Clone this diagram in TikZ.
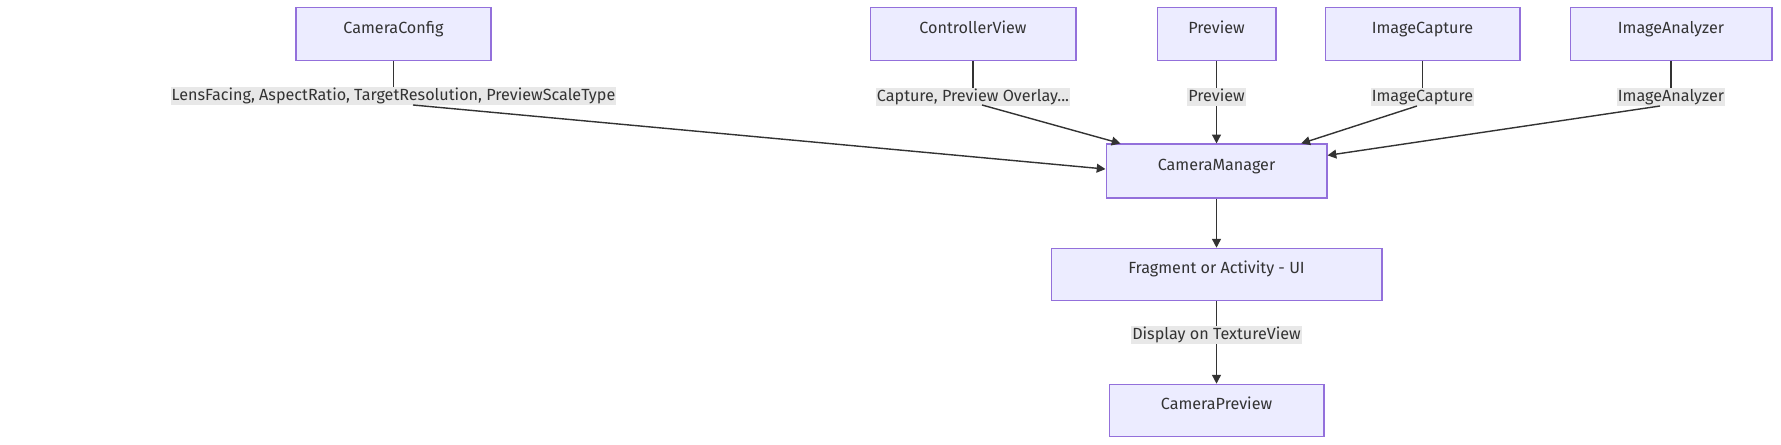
\documentclass[tikz,border=0pt]{standalone}
\usepackage{fontspec}
\setmainfont{Fira Sans}
\usetikzlibrary{arrows.meta}
\definecolor{boxfill}{HTML}{ECECFF}
\definecolor{boxline}{HTML}{9370DB}
\definecolor{lblfill}{HTML}{E8E8E8}
\definecolor{ink}{HTML}{333333}
\tikzset{
  box/.style={draw=boxline, fill=boxfill, line width=0.6pt, text=ink,
    font=\fontsize{9.2}{11}\selectfont, text height=6.8pt, text depth=7.8pt,
    inner xsep=0pt, minimum height=1.05cm},
  elabel/.style={fill=lblfill, text=ink, font=\fontsize{9.2}{11}\selectfont,
    inner xsep=0.5pt, inner ysep=0pt, text height=7pt, text depth=2.2pt,
    minimum height=0.36cm},
  edge/.style={draw=ink, line width=0.8pt},
  arrow/.style={edge, -{Triangle[length=5pt,width=5pt]}}
}

\begin{document}
\begin{tikzpicture}[x=0.02cm, y=-0.02cm]
% Canvas
\fill[white] (0,0) rectangle (1781,445);
% Top row sources
\node[box, minimum width=3.9cm]  (cfg)  at (393.5,34) {CameraConfig};
\node[box, minimum width=4.12cm] (ctrl) at (973,34)   {ControllerView};
\node[box, minimum width=2.38cm] (prev) at (1216.5,34) {Preview};
\node[box, minimum width=3.9cm]  (icap) at (1422.5,34) {ImageCapture};
\node[box, minimum width=4.04cm] (iana) at (1671,34)  {ImageAnalyzer};
% Middle and bottom
\node[box, minimum width=4.42cm, minimum height=1.08cm] (mgr) at (1216.5,171) {CameraManager};
\node[box, minimum width=6.62cm] (frag)  at (1216.5,274.5) {Fragment or Activity - UI};
\node[box, minimum width=4.3cm]  (cprev) at (1216.5,410.5) {CameraPreview};
% Edge labels
\node[elabel] (lensLbl) at (393.5,96) {LensFacing, AspectRatio, TargetResolution, PreviewScaleType};
\node[elabel] (ctrlLbl) at (973,97)   {Capture, Preview Overlay...};
\node[elabel] (prevLbl) at (1216.5,97) {Preview};
\node[elabel] (icapLbl) at (1422.5,97) {ImageCapture};
\node[elabel] (ianaLbl) at (1671,97)  {ImageAnalyzer};
\node[elabel] (dispLbl) at (1216.5,335) {Display on TextureView};
% Bend points under the labels
\coordinate (lensOut) at (413,105);
\coordinate (ctrlOut) at (982,105);
\coordinate (icapOut) at (1417,106);
\coordinate (ianaOut) at (1660,106);
% Edges into CameraManager
\draw[edge] (cfg) -- (lensLbl);
\draw[arrow] (lensOut) -- (mgr.179);
\draw[edge] (ctrl) -- (ctrlLbl);
\draw[arrow] (ctrlOut) -- (mgr.164);
\draw[edge] (prev) -- (prevLbl);
\draw[arrow] (prevLbl) -- (mgr);
\draw[edge] (icap) -- (icapLbl);
\draw[arrow] (icapOut) -- (mgr.18.5);
\draw[edge] (iana) -- (ianaLbl);
\draw[arrow] (ianaOut) -- (mgr.8.7);
% Down the chain
\draw[arrow] (mgr) -- (frag);
\draw[edge] (frag) -- (dispLbl);
\draw[arrow] (dispLbl) -- (cprev);
\end{tikzpicture}
\end{document}
